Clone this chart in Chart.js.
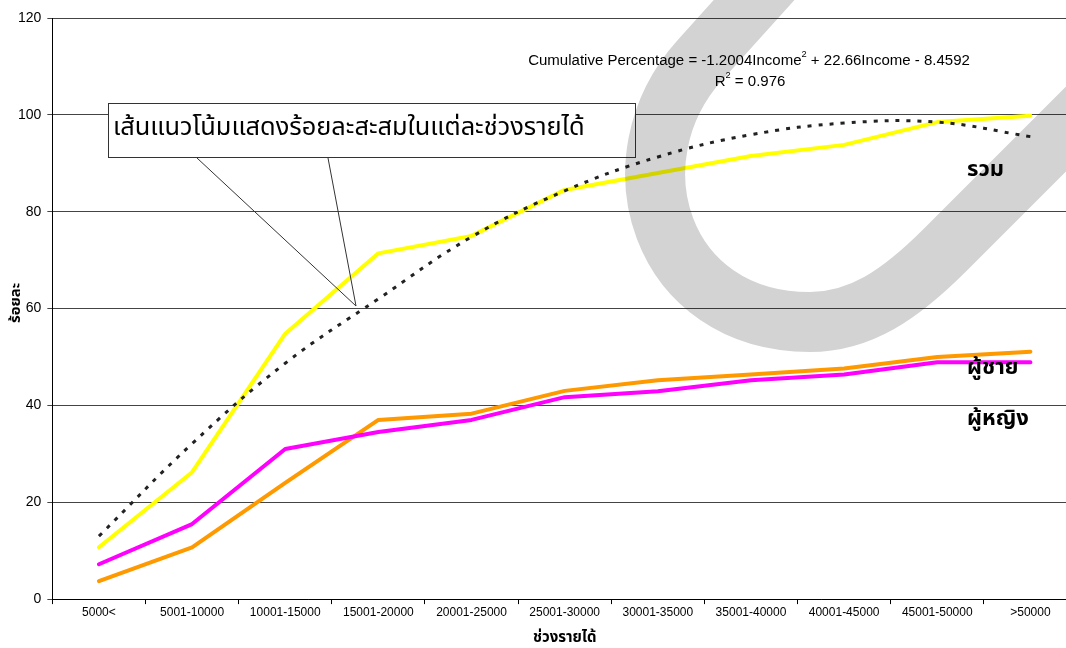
<!DOCTYPE html>
<html lang="th">
<head>
  <meta charset="UTF-8">
  <title>ร้อยละสะสมตามช่วงรายได้</title>
  <script src="https://cdn.jsdelivr.net/npm/chart.js"></script>
  <style>
    html, body {
      margin: 0;
      padding: 0;
      background: #ffffff;
      overflow: hidden;
    }
    #wrap {
      width: 1080px;
      height: 648px;
    }
  </style>
</head>
<body>
  <div id="wrap">
    <canvas id="chart" width="1080" height="648"></canvas>
  </div>

  <script>
    // ช่วงรายได้
    const categories = ['5000<', '5001-10000', '10001-15000', '15001-20000', '20001-25000',
      '25001-30000', '30001-35000', '35001-40000', '40001-45000', '45001-50000', '>50000'];

    // ร้อยละสะสม (อ่านจากภาพ)
    const totalPct  = [10.7, 26.2, 54.8, 71.4, 75.0, 84.5, 88.0, 91.5, 93.8, 98.5, 99.8];
    const malePct   = [3.7, 10.7, 24.0, 37.0, 38.3, 43.0, 45.2, 46.4, 47.6, 50.0, 51.1];
    const femalePct = [7.2, 15.5, 31.0, 34.5, 37.0, 41.7, 42.9, 45.2, 46.4, 48.9, 48.9];
    const trendPct  = [13.0, 32.1, 48.7, 62.0, 74.8, 84.3, 91.3, 95.9, 98.3, 98.5, 95.5];

    const yTicks = [0, 20, 40, 60, 80, 100, 120];

    const seriesNames = ['รวม', 'ผู้ชาย', 'ผู้หญิง'];
    const calloutText = 'เส้นแนวโน้มแสดงร้อยละสะสมในแต่ละช่วงรายได้';
    const eqMain = 'Cumulative Percentage = -1.2004Income';
    const eqRest = ' + 22.66Income - 8.4592';

    const thaiFont = '"Noto Sans Thai", "Noto Sans", "DejaVu Sans", sans-serif';
    const latinFont = '"Liberation Sans", Arial, sans-serif';

    // ปรับขนาดตัวอักษรให้ข้อความกว้างเท่าที่ต้องการ
    function fitFont(ctx, text, weight, size, family, width) {
      ctx.font = `${weight} ${size}px ${family}`;
      const w = ctx.measureText(text).width;
      const s = size * width / w;
      ctx.font = `${weight} ${s}px ${family}`;
      return s;
    }

    // ข้อความมีตัวยก "2"
    function drawSup(ctx, parts, size, cx, y) {
      const sup = size * 0.62;
      const widths = parts.map((p, i) => {
        ctx.font = `${i === 1 ? sup : size}px ${latinFont}`;
        return ctx.measureText(p).width;
      });
      let x = cx - widths.reduce((a, b) => a + b, 0) / 2;
      parts.forEach((p, i) => {
        ctx.font = `${i === 1 ? sup : size}px ${latinFont}`;
        ctx.fillText(p, x, i === 1 ? y - size * 0.45 : y);
        x += widths[i];
      });
    }

    const extras = {
      id: 'extras',
      afterDatasetsDraw(chart) {
        const ctx = chart.ctx;
        ctx.save();

        // กล่องคำอธิบาย
        ctx.fillStyle = '#ffffff';
        ctx.strokeStyle = '#333333';
        ctx.lineWidth = 1;
        ctx.fillRect(108.5, 103.5, 527, 54);
        ctx.strokeRect(108.5, 103.5, 527, 54);
        ctx.beginPath();
        ctx.moveTo(197, 158);
        ctx.lineTo(356, 306);
        ctx.lineTo(328, 158);
        ctx.stroke();

        ctx.fillStyle = '#000000';
        ctx.textBaseline = 'middle';
        ctx.textAlign = 'left';
        fitFont(ctx, calloutText, 'normal', 22, thaiFont, 472);
        ctx.fillText(calloutText, 113, 130);

        // สมการเส้นแนวโน้ม
        ctx.font = `13px ${latinFont}`;
        const wEq = ctx.measureText(eqMain + eqRest).width + ctx.measureText('2').width * 0.62;
        const eqSize = 13 * 442 / wEq;
        drawSup(ctx, [eqMain, '2', eqRest], eqSize, 749, 61);
        drawSup(ctx, ['R', '2', ' = 0.976'], eqSize, 750, 82);

        // ป้ายชื่อเส้น
        ctx.font = `bold 22px ${thaiFont}`;
        ctx.fillText(seriesNames[0], 967, 172);
        ctx.fillText(seriesNames[1], 967, 370);
        ctx.fillText(seriesNames[2], 967, 421);

        // ชื่อแกน y
        ctx.translate(17, 303);
        ctx.rotate(-Math.PI / 2);
        ctx.textAlign = 'center';
        fitFont(ctx, 'ร้อยละ', 'bold', 14, thaiFont, 40);
        ctx.fillText('ร้อยละ', 0, 0);
        ctx.restore();
      },
      afterDraw(chart) {
        // ลายน้ำสีเทา
        const ctx = chart.ctx;
        ctx.save();
        ctx.globalCompositeOperation = 'multiply';
        ctx.strokeStyle = 'rgb(211,211,211)';
        ctx.lineWidth = 60;
        ctx.lineJoin = 'round';
        ctx.beginPath();
        ctx.moveTo(810, -62);
        ctx.lineTo(700, 60);
        ctx.bezierCurveTo(610, 160, 660, 322, 810, 322);
        ctx.bezierCurveTo(860, 322, 900, 295, 945, 250);
        ctx.lineTo(1110, 85);
        ctx.stroke();
        ctx.restore();
      }
    };

    const lineStyle = {
      pointRadius: 0,
      borderWidth: 4,
      borderJoinStyle: 'round',
      borderCapStyle: 'round',
      tension: 0,
      fill: false
    };

    new Chart(document.getElementById('chart'), {
      type: 'line',
      data: {
        labels: categories,
        datasets: [
          {
            label: 'แนวโน้ม',
            data: trendPct,
            borderColor: '#222222',
            borderWidth: 3,
            borderDash: [4, 7],
            pointRadius: 0,
            tension: 0.4,
            fill: false,
            order: 0
          },
          Object.assign({ label: seriesNames[2], data: femalePct, borderColor: '#ff00ff', order: 1 }, lineStyle),
          Object.assign({ label: seriesNames[1], data: malePct, borderColor: '#ff9900', order: 2 }, lineStyle),
          Object.assign({ label: seriesNames[0], data: totalPct, borderColor: '#ffff00', order: 3 }, lineStyle)
        ]
      },
      options: {
        responsive: false,
        animation: false,
        layout: { padding: { left: 12, top: 18, right: 3, bottom: 0 } },
        plugins: {
          legend: { display: false },
          tooltip: { enabled: false }
        },
        scales: {
          x: {
            offset: true,
            grid: {
              offset: true,
              drawOnChartArea: false,
              drawTicks: true,
              tickLength: 5,
              color: '#000000'
            },
            border: { color: '#000000', width: 1 },
            ticks: {
              color: '#000000',
              font: { family: latinFont, size: 12 },
              padding: 1,
              maxRotation: 0,
              autoSkip: false
            },
            title: {
              display: true,
              text: 'ช่วงรายได้',
              color: '#000000',
              font: { family: thaiFont, size: 15, weight: 'bold' },
              padding: { top: 9.5, bottom: 0 }
            }
          },
          y: {
            min: yTicks[0],
            max: yTicks[yTicks.length - 1],
            ticks: {
              stepSize: yTicks[1] - yTicks[0],
              color: '#000000',
              font: { family: latinFont, size: 14 },
              padding: 6
            },
            grid: {
              color: '#444444',
              lineWidth: 1,
              tickLength: 5,
              drawTicks: true
            },
            border: { color: '#000000', width: 1 }
          }
        }
      },
      plugins: [extras]
    });
  </script>
</body>
</html>
